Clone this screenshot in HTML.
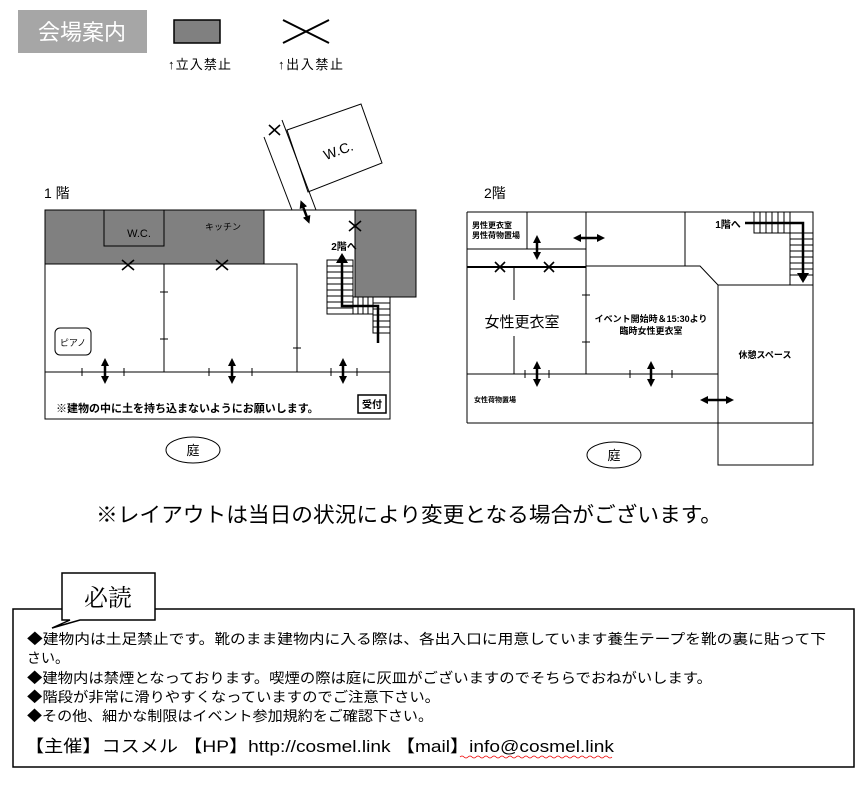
<!DOCTYPE html>
<html><head><meta charset="utf-8"><style>
body{margin:0;background:#fff;}
svg{display:block;font-family:"Liberation Sans","Noto Sans CJK JP",sans-serif;}
</style></head><body>
<svg width="865" height="789" viewBox="0 0 865 789" xmlns="http://www.w3.org/2000/svg">
<defs>
<marker id="ah" markerWidth="8" markerHeight="8" refX="4" refY="4" orient="auto" markerUnits="userSpaceOnUse"><path d="M0,0L8,4L0,8z" fill="#000"/></marker>
<marker id="ahs" markerWidth="8" markerHeight="8" refX="4" refY="4" orient="auto-start-reverse" markerUnits="userSpaceOnUse"><path d="M0,0L8,4L0,8z" fill="#000"/></marker>
</defs>
<!-- legend -->
<rect x="18" y="10" width="129" height="43" fill="#a6a6a6"/>
<text x="82" y="40" font-size="22" fill="#fff" text-anchor="middle">会場案内</text>
<rect x="174" y="20" width="46" height="23" fill="#808080" stroke="#000" stroke-width="1.5"/>
<text x="168" y="69" font-size="13" textLength="63">↑立入禁止</text>
<line x1="283" y1="20" x2="329" y2="43" stroke="#000" stroke-width="2"/>
<line x1="283" y1="43" x2="329" y2="20" stroke="#000" stroke-width="2"/>
<text x="278" y="69" font-size="13" textLength="65">↑出入禁止</text>

<!-- 1F -->
<text x="44" y="198" font-size="14">1 階</text>
<g stroke="#000" stroke-width="1" fill="none">
<rect x="45" y="210" width="219" height="54" fill="#808080"/>
<rect x="355" y="210" width="61" height="87" fill="#808080"/>
<rect x="104" y="210" width="60" height="36"/>
<line x1="264" y1="210" x2="355" y2="210"/>
<rect x="45" y="264" width="119" height="108"/>
<rect x="164" y="264" width="133" height="108"/>
<rect x="45" y="372" width="345" height="47"/>
<line x1="45" y1="210" x2="45" y2="419"/>
<line x1="390" y1="297" x2="390" y2="372"/>
<rect x="55" y="328" width="36" height="27" rx="5"/>
<rect x="358" y="395" width="28" height="18" stroke-width="1.5"/>
<rect x="327" y="260" width="26" height="54"/>
<line x1="327" y1="266" x2="353" y2="266"/><line x1="327" y1="272" x2="353" y2="272"/><line x1="327" y1="278" x2="353" y2="278"/><line x1="327" y1="284" x2="353" y2="284"/><line x1="327" y1="290" x2="353" y2="290"/><line x1="327" y1="296" x2="353" y2="296"/><line x1="327" y1="302" x2="353" y2="302"/><line x1="327" y1="308" x2="353" y2="308"/>
<rect x="353" y="297" width="20" height="17"/>
<line x1="358" y1="297" x2="358" y2="314"/><line x1="363" y1="297" x2="363" y2="314"/><line x1="368" y1="297" x2="368" y2="314"/>
<rect x="373" y="297" width="17" height="36"/>
<line x1="373" y1="303" x2="390" y2="303"/><line x1="373" y1="309" x2="390" y2="309"/><line x1="373" y1="315" x2="390" y2="315"/><line x1="373" y1="321" x2="390" y2="321"/><line x1="373" y1="327" x2="390" y2="327"/>
<line x1="160" y1="292" x2="168" y2="292"/><line x1="160" y1="339" x2="168" y2="339"/><line x1="293" y1="348" x2="301" y2="348"/>
<line x1="82" y1="368" x2="82" y2="376"/><line x1="124" y1="368" x2="124" y2="376"/>
<line x1="209" y1="368" x2="209" y2="376"/><line x1="252" y1="368" x2="252" y2="376"/>
<line x1="331" y1="368" x2="331" y2="376"/><line x1="357" y1="368" x2="357" y2="376"/>
<polygon points="287,130 361,104 382,163 308,192" fill="#fff"/>
<line x1="264" y1="137" x2="292" y2="210"/>
<line x1="282" y1="120" x2="316" y2="210"/>
</g>
<g stroke="#000" stroke-width="1.6">
<line x1="122" y1="260" x2="134" y2="270"/><line x1="122" y1="270" x2="134" y2="260"/>
<line x1="216" y1="260" x2="228" y2="270"/><line x1="216" y1="270" x2="228" y2="260"/>
<line x1="349" y1="221" x2="361" y2="231"/><line x1="349" y1="231" x2="361" y2="221"/>
<line x1="269" y1="125" x2="280" y2="135"/><line x1="269" y1="135" x2="280" y2="125"/>
</g>
<g stroke="#000" stroke-width="2.5" fill="none">
<line x1="105" y1="362" x2="105" y2="380" marker-start="url(#ahs)" marker-end="url(#ah)"/>
<line x1="232" y1="362" x2="232" y2="380" marker-start="url(#ahs)" marker-end="url(#ah)"/>
<line x1="343" y1="362" x2="343" y2="380" marker-start="url(#ahs)" marker-end="url(#ah)"/>
<line x1="302" y1="204" x2="308" y2="220" marker-start="url(#ahs)" marker-end="url(#ah)"/>
<polyline points="378,343 378,306 342,306 342,263"/>
</g>
<path d="M336,263L342,253L348,263z" fill="#000"/>
<text x="340" y="155" font-size="14" transform="rotate(-20 340 155)" text-anchor="middle">W.C.</text>
<text x="139" y="237" font-size="11" text-anchor="middle">W.C.</text>
<text x="223" y="230" font-size="9" text-anchor="middle">キッチン</text>
<text x="344" y="250" font-size="10" font-weight="bold" text-anchor="middle">2階へ</text>
<text x="73" y="346" font-size="9" text-anchor="middle">ピアノ</text>
<text x="56" y="412" font-size="11" font-weight="bold">※建物の中に土を持ち込まないようにお願いします。</text>
<text x="372" y="408" font-size="10" font-weight="bold" text-anchor="middle">受付</text>
<ellipse cx="193" cy="450" rx="27" ry="13" fill="none" stroke="#000"/>
<text x="193" y="455" font-size="13" text-anchor="middle">庭</text>

<!-- 2F -->
<text x="484" y="198" font-size="14">2階</text>
<g stroke="#000" stroke-width="1" fill="none">
<polyline points="467,212 813,212 813,285"/>
<line x1="467" y1="212" x2="467" y2="423"/>
<line x1="467" y1="423" x2="718" y2="423"/>
<rect x="718" y="285" width="95" height="180"/>
<line x1="718" y1="423" x2="813" y2="423"/>
<line x1="527" y1="212" x2="527" y2="249"/>
<line x1="467" y1="249" x2="586" y2="249"/>
<line x1="586" y1="212" x2="586" y2="374"/>
<line x1="685" y1="212" x2="685" y2="266"/>
<polyline points="586,266 700,266 718,285"/>
<line x1="514" y1="267" x2="514" y2="300"/><line x1="514" y1="336" x2="514" y2="374"/>
<line x1="467" y1="374" x2="718" y2="374"/>
<rect x="754" y="212" width="36" height="21"/>
<line x1="760" y1="212" x2="760" y2="233"/><line x1="766" y1="212" x2="766" y2="233"/><line x1="772" y1="212" x2="772" y2="233"/><line x1="778" y1="212" x2="778" y2="233"/><line x1="784" y1="212" x2="784" y2="233"/>
<rect x="790" y="233" width="23" height="52"/>
<line x1="790" y1="239" x2="813" y2="239"/><line x1="790" y1="245" x2="813" y2="245"/><line x1="790" y1="251" x2="813" y2="251"/><line x1="790" y1="257" x2="813" y2="257"/><line x1="790" y1="263" x2="813" y2="263"/><line x1="790" y1="269" x2="813" y2="269"/><line x1="790" y1="275" x2="813" y2="275"/>
<line x1="582" y1="295" x2="590" y2="295"/><line x1="582" y1="342" x2="590" y2="342"/>
<line x1="525" y1="370" x2="525" y2="378"/><line x1="549" y1="370" x2="549" y2="378"/>
<line x1="630" y1="370" x2="630" y2="378"/><line x1="672" y1="370" x2="672" y2="378"/>
</g>
<line x1="467" y1="267" x2="586" y2="267" stroke="#000" stroke-width="2"/>
<g stroke="#000" stroke-width="1.6">
<line x1="495" y1="262" x2="505" y2="272"/><line x1="495" y1="272" x2="505" y2="262"/>
<line x1="544" y1="262" x2="554" y2="272"/><line x1="544" y1="272" x2="554" y2="262"/>
</g>
<g stroke="#000" stroke-width="2.5" fill="none">
<line x1="537" y1="239" x2="537" y2="256" marker-start="url(#ahs)" marker-end="url(#ah)"/>
<line x1="577" y1="238" x2="601" y2="238" marker-start="url(#ahs)" marker-end="url(#ah)"/>
<line x1="537" y1="365" x2="537" y2="383" marker-start="url(#ahs)" marker-end="url(#ah)"/>
<line x1="651" y1="365" x2="651" y2="383" marker-start="url(#ahs)" marker-end="url(#ah)"/>
<line x1="704" y1="400" x2="730" y2="400" marker-start="url(#ahs)" marker-end="url(#ah)"/>
<polyline points="745,223 803,223 803,274"/>
</g>
<path d="M797,273L803,283L809,273z" fill="#000"/>
<text x="472" y="228" font-size="8" font-weight="bold">男性更衣室</text>
<text x="472" y="238" font-size="8" font-weight="bold">男性荷物置場</text>
<text x="728" y="228" font-size="10" font-weight="bold" text-anchor="middle">1階へ</text>
<text x="522" y="327" font-size="15" text-anchor="middle">女性更衣室</text>
<text x="651" y="322" font-size="9" font-weight="bold" text-anchor="middle">イベント開始時＆15:30より</text>
<text x="651" y="334" font-size="9" font-weight="bold" text-anchor="middle">臨時女性更衣室</text>
<text x="765" y="358" font-size="9" font-weight="bold" text-anchor="middle">休憩スペース</text>
<text x="474" y="402" font-size="7" font-weight="bold">女性荷物置場</text>
<ellipse cx="614" cy="455" rx="27" ry="13" fill="none" stroke="#000"/>
<text x="614" y="460" font-size="13" text-anchor="middle">庭</text>

<text x="96" y="522" font-size="21" textLength="626" lengthAdjust="spacingAndGlyphs">※レイアウトは当日の状況により変更となる場合がございます。</text>

<!-- notice box -->
<rect x="13" y="609" width="841" height="158" fill="#fff" stroke="#000" stroke-width="1.5"/>
<path d="M62,573 L155,573 L155,620 L80,620 L52,628 L70,620 L62,620 Z" fill="#fff" stroke="#000" stroke-width="1.5"/>
<line x1="63" y1="609" x2="154" y2="609" stroke="#fff" stroke-width="2"/>
<text x="108" y="606" font-size="24" font-family="Liberation Serif,Noto Serif CJK SC,serif" text-anchor="middle">必読</text>
<g font-size="14" lengthAdjust="spacingAndGlyphs">
<text x="27" y="644" textLength="799" lengthAdjust="spacingAndGlyphs">◆建物内は土足禁止です。靴のまま建物内に入る際は、各出入口に用意しています養生テープを靴の裏に貼って下</text>
<text x="27" y="663">さい。</text>
<text x="27" y="683" textLength="685" lengthAdjust="spacingAndGlyphs">◆建物内は禁煙となっております。喫煙の際は庭に灰皿がございますのでそちらでおねがいします。</text>
<text x="27" y="702" textLength="413" lengthAdjust="spacingAndGlyphs">◆階段が非常に滑りやすくなっていますのでご注意下さい。</text>
<text x="27" y="721" textLength="406" lengthAdjust="spacingAndGlyphs">◆その他、細かな制限はイベント参加規約をご確認下さい。</text>
</g>
<text x="25" y="752" font-size="17" textLength="589" lengthAdjust="spacingAndGlyphs">【主催】コスメル 【HP】http://cosmel.link 【mail】info@cosmel.link</text>
<path d="M460,757 q2,-2 4,0 t4,0 t4,0 t4,0 t4,0 t4,0 t4,0 t4,0 t4,0 t4,0 t4,0 t4,0 t4,0 t4,0 t4,0 t4,0 t4,0 t4,0 t4,0 t4,0 t4,0 t4,0 t4,0 t4,0 t4,0 t4,0 t4,0 t4,0 t4,0 t4,0 t4,0 t4,0 t4,0 t4,0 t4,0 t4,0 t4,0 t4,0" fill="none" stroke="#e00" stroke-width="0.8"/>
</svg>
</body></html>
